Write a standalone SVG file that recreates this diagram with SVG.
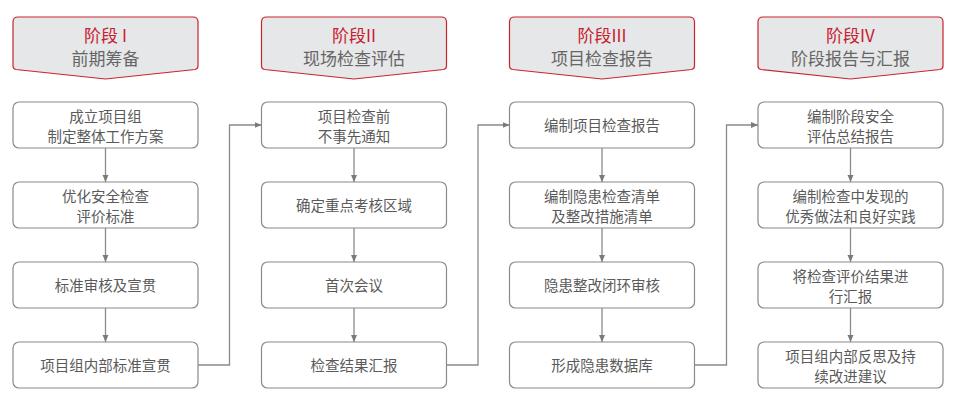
<svg xmlns="http://www.w3.org/2000/svg" width="973" height="414" viewBox="0 0 973 414">
<defs>
<marker id="ah" markerWidth="8" markerHeight="8" refX="7" refY="4" orient="auto" markerUnits="userSpaceOnUse">
<path d="M0,1 L7,4 L0,7 Z" fill="#7a7a7a"/>
</marker>
<style>
.hd{fill:#e6e7e8;stroke:#c9242f;stroke-width:1.2}
.t1{font-family:"Noto Sans CJK SC","Noto Sans",sans-serif;font-size:17px;fill:#c8202f;text-anchor:middle}
.t2{font-family:"Noto Sans CJK SC","Noto Sans",sans-serif;font-size:17px;fill:#666;text-anchor:middle}
.bx{fill:#fff;stroke:#8a8a8a;stroke-width:1.2}
.bt{font-family:"Noto Sans CJK SC","Noto Sans",sans-serif;font-size:14.5px;fill:#5a5a5a;text-anchor:middle}
.cn{fill:none;stroke:#8a8a8a;stroke-width:1.3;marker-end:url(#ah)}
</style>
</defs>
<rect width="973" height="414" fill="#fff"/>
<g id="h1"><path class="hd" d="M18,17 H193 Q198,17 198,22 V66 Q198,69 195,69.5 L105.5,79 L16,69.5 Q13,69 13,66 V22 Q13,17 18,17 Z"/><text class="t1" x="105.5" y="42">阶段 I</text><text class="t2" x="105.5" y="65">前期筹备</text></g>
<g id="h2"><path class="hd" d="M266.5,17 H441.5 Q446.5,17 446.5,22 V66 Q446.5,69 443.5,69.5 L354,79 L264.5,69.5 Q261.5,69 261.5,66 V22 Q261.5,17 266.5,17 Z"/><text class="t1" x="354" y="42">阶段II</text><text class="t2" x="354" y="65">现场检查评估</text></g>
<g id="h3"><path class="hd" d="M514.5,17 H689.5 Q694.5,17 694.5,22 V66 Q694.5,69 691.5,69.5 L602,79 L512.5,69.5 Q509.5,69 509.5,66 V22 Q509.5,17 514.5,17 Z"/><text class="t1" x="602" y="42">阶段III</text><text class="t2" x="602" y="65">项目检查报告</text></g>
<g id="h4"><path class="hd" d="M763,17 H938 Q943,17 943,22 V66 Q943,69 940,69.5 L850.5,79 L761,69.5 Q758,69 758,66 V22 Q758,17 763,17 Z"/><text class="t1" x="850.5" y="42">阶段IV</text><text class="t2" x="850.5" y="65">阶段报告与汇报</text></g>

<g id="n1a"><rect class="bx" x="13" y="102" width="185" height="46" rx="6"/><text class="bt" x="105.5" y="122">成立项目组</text><text class="bt" x="105.5" y="142">制定整体工作方案</text></g>
<g id="n1b"><rect class="bx" x="13" y="182" width="185" height="46" rx="6"/><text class="bt" x="105.5" y="202">优化安全检查</text><text class="bt" x="105.5" y="222">评价标准</text></g>
<g id="n1c"><rect class="bx" x="13" y="262" width="185" height="46" rx="6"/><text class="bt" x="105.5" y="290.5">标准审核及宣贯</text></g>
<g id="n1d"><rect class="bx" x="13" y="342" width="185" height="46" rx="6"/><text class="bt" x="105.5" y="370.5">项目组内部标准宣贯</text></g>

<g id="n2a"><rect class="bx" x="261.5" y="102" width="185" height="46" rx="6"/><text class="bt" x="354" y="122">项目检查前</text><text class="bt" x="354" y="142">不事先通知</text></g>
<g id="n2b"><rect class="bx" x="261.5" y="182" width="185" height="46" rx="6"/><text class="bt" x="354" y="210.5">确定重点考核区域</text></g>
<g id="n2c"><rect class="bx" x="261.5" y="262" width="185" height="46" rx="6"/><text class="bt" x="354" y="290.5">首次会议</text></g>
<g id="n2d"><rect class="bx" x="261.5" y="342" width="185" height="46" rx="6"/><text class="bt" x="354" y="370.5">检查结果汇报</text></g>

<g id="n3a"><rect class="bx" x="509.5" y="102" width="185" height="46" rx="6"/><text class="bt" x="602" y="130.5">编制项目检查报告</text></g>
<g id="n3b"><rect class="bx" x="509.5" y="182" width="185" height="46" rx="6"/><text class="bt" x="602" y="202">编制隐患检查清单</text><text class="bt" x="602" y="222">及整改措施清单</text></g>
<g id="n3c"><rect class="bx" x="509.5" y="262" width="185" height="46" rx="6"/><text class="bt" x="602" y="290.5">隐患整改闭环审核</text></g>
<g id="n3d"><rect class="bx" x="509.5" y="342" width="185" height="46" rx="6"/><text class="bt" x="602" y="370.5">形成隐患数据库</text></g>

<g id="n4a"><rect class="bx" x="758" y="102" width="185" height="46" rx="6"/><text class="bt" x="850.5" y="122">编制阶段安全</text><text class="bt" x="850.5" y="142">评估总结报告</text></g>
<g id="n4b"><rect class="bx" x="758" y="182" width="185" height="46" rx="6"/><text class="bt" x="850.5" y="202">编制检查中发现的</text><text class="bt" x="850.5" y="222">优秀做法和良好实践</text></g>
<g id="n4c"><rect class="bx" x="758" y="262" width="185" height="46" rx="6"/><text class="bt" x="850.5" y="282">将检查评价结果进</text><text class="bt" x="850.5" y="302">行汇报</text></g>
<g id="n4d"><rect class="bx" x="758" y="342" width="185" height="46" rx="6"/><text class="bt" x="850.5" y="362">项目组内部反思及持</text><text class="bt" x="850.5" y="382">续改进建议</text></g>

<g id="connectors">
<path class="cn" d="M105.5,148 V182"/><path class="cn" d="M105.5,228 V262"/><path class="cn" d="M105.5,308 V342"/>
<path class="cn" d="M354,148 V182"/><path class="cn" d="M354,228 V262"/><path class="cn" d="M354,308 V342"/>
<path class="cn" d="M602,148 V182"/><path class="cn" d="M602,228 V262"/><path class="cn" d="M602,308 V342"/>
<path class="cn" d="M850.5,148 V182"/><path class="cn" d="M850.5,228 V262"/><path class="cn" d="M850.5,308 V342"/>
<path class="cn" d="M198,365 H229.5 V125 H261.5"/>
<path class="cn" d="M446.5,365 H478 V125 H509.5"/>
<path class="cn" d="M694.5,365 H726.5 V125 H758"/>
</g>
</svg>
